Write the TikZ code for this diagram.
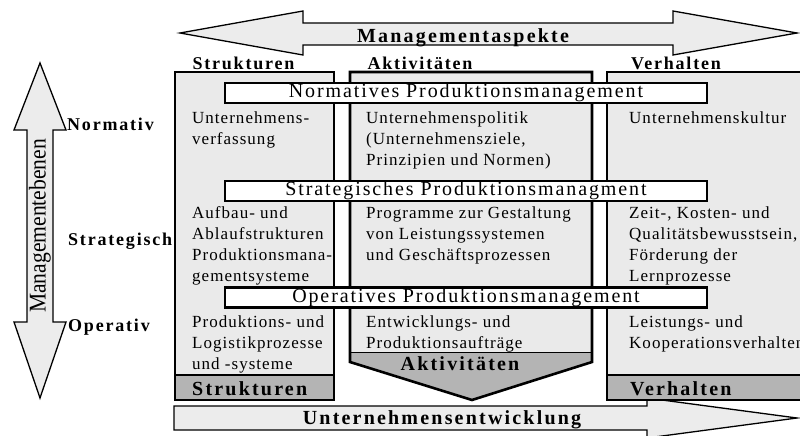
\documentclass[tikz,border=0pt]{standalone}
\usepackage{fontspec}
\setmainfont{Liberation Serif}
\newfontfamily\bodyfont[LetterSpace=6]{Liberation Serif}
\newfontfamily\barfont[LetterSpace=9.5]{Liberation Serif}
\newfontfamily\labfont[LetterSpace=10]{Liberation Serif}
\newfontfamily\bigfont[LetterSpace=11]{Liberation Serif}
\definecolor{boxgray}{RGB}{234,234,234}
\definecolor{darkfill}{RGB}{180,180,180}
\definecolor{arrowgray}{RGB}{236,236,236}
\begin{document}
\begin{tikzpicture}[x=1pt,y=-1pt,
  arr/.style={draw=black, line width=1.3pt, fill=arrowgray, line join=miter},
  colbox/.style={draw=black, line width=2.6pt, fill=boxgray},
  darkbox/.style={draw=black, line width=2.6pt, fill=darkfill},
  levelbar/.style={draw=black, line width=2.6pt, fill=white, inner sep=0pt,
    minimum width=482pt, minimum height=20pt, font=\barfont\fontsize{20}{24}\selectfont},
  cell/.style={anchor=north west, align=left, inner sep=0pt,
    font=\bodyfont\fontsize{17}{21}\selectfont},
  sidelab/.style={anchor=base west, inner sep=0pt, font=\labfont\bfseries\fontsize{18}{22}\selectfont},
  head/.style={anchor=base, inner sep=0pt, font=\labfont\bfseries\fontsize{18}{22}\selectfont},
  biglab/.style={anchor=base, inner sep=0pt, font=\bigfont\bfseries\fontsize{20}{24}\selectfont}
]
\useasboundingbox (0,0) rectangle (800,436);

% bottom arrow
\draw[arr] (174,406) -- (647,406) -- (647,398) -- (797,418) -- (647,438)
  -- (647,430) -- (174,430) -- cycle;
% top arrow
\draw[arr] (180,33) -- (303,11) -- (303,23) -- (673,23) -- (673,11) -- (797,33)
  -- (673,55) -- (673,45) -- (303,45) -- (303,55) -- cycle;
% left arrow
\draw[arr] (40,63) -- (66,130) -- (53,130) -- (53,322) -- (66,322) -- (40,398)
  -- (14,322) -- (27,322) -- (27,130) -- (14,130) -- cycle;

% columns
\draw[colbox] (175,72) rectangle (334,400);
\draw[darkbox] (175,375) rectangle (334,400);
\draw[colbox] (607,72) rectangle (810,400);
\draw[darkbox] (607,375) rectangle (810,400);
\fill[boxgray] (350,72) -- (592,72) -- (592,352) -- (350,352) -- cycle;
\fill[darkfill] (350,352) -- (592,352) -- (592,362) -- (472,400) -- (350,362) -- cycle;
\draw[line width=1pt] (350,352) -- (592,352);
\draw[line width=2.6pt, line join=miter] (350,72) -- (592,72) -- (592,362) -- (472,400)
  -- (350,362) -- cycle;

% level bars
\node[levelbar] (norm) at (466,93) {Normatives Produktionsmanagement};
\node[levelbar] (strat) at (466,191) {Strategisches Produktionsmanagment};
\node[levelbar] (oper) at (466,297.5) {Operatives Produktionsmanagement};

% headers
\node[biglab] (aspekte) at (463,43) {Managementaspekte};
\node[head] (hstr) at (243.5,70) {Strukturen};
\node[head] (hakt) at (420,70) {Aktivitäten};
\node[head] (hver) at (676,70) {Verhalten};

% side labels
\node[sidelab] (lnorm) at (67,130) {Normativ};
\node[sidelab] (lstrat) at (68,245) {Strategisch};
\node[sidelab] (loper) at (68,331) {Operativ};
\node[rotate=90, inner sep=0pt, font=\fontsize{24}{24}\selectfont] (ebenen) at (40,226)
  {\scalebox{0.9}[1]{Managementebenen}};

% cells (top = first baseline - 11.6)
\node[cell] (c11) at (192,111.4) {Unternehmens-\\verfassung};
\node[cell] (c12) at (366,111.4) {Unternehmenspolitik\\(Unternehmensziele,\\Prinzipien und Normen)};
\node[cell] (c13) at (629,111.4) {Unternehmenskultur};
\node[cell] (c21) at (192,206.4) {Aufbau- und\\Ablaufstrukturen\\Produktionsmana-\\gementsysteme};
\node[cell] (c22) at (366,206.4) {Programme zur Gestaltung\\von Leistungssystemen\\und Geschäftsprozessen};
\node[cell] (c23) at (629,206.4) {Zeit-, Kosten- und\\Qualitätsbewusstsein,\\Förderung der\\Lernprozesse};
\node[cell] (c31) at (192,315.4) {Produktions- und\\Logistikprozesse\\und -systeme};
\node[cell] (c32) at (366,315.4) {Entwicklungs- und\\Produktionsaufträge};
\node[cell] (c33) at (629,315.4) {Leistungs- und\\Kooperationsverhalten};

% bottom labels
\node[biglab, anchor=base west] (bstr) at (192,395) {Strukturen};
\node[biglab] (bakt) at (460,370) {Aktivitäten};
\node[biglab, anchor=base west] (bver) at (630,395) {Verhalten};
\node[biglab] (entw) at (442,424) {Unternehmensentwicklung};
\end{tikzpicture}
\end{document}
